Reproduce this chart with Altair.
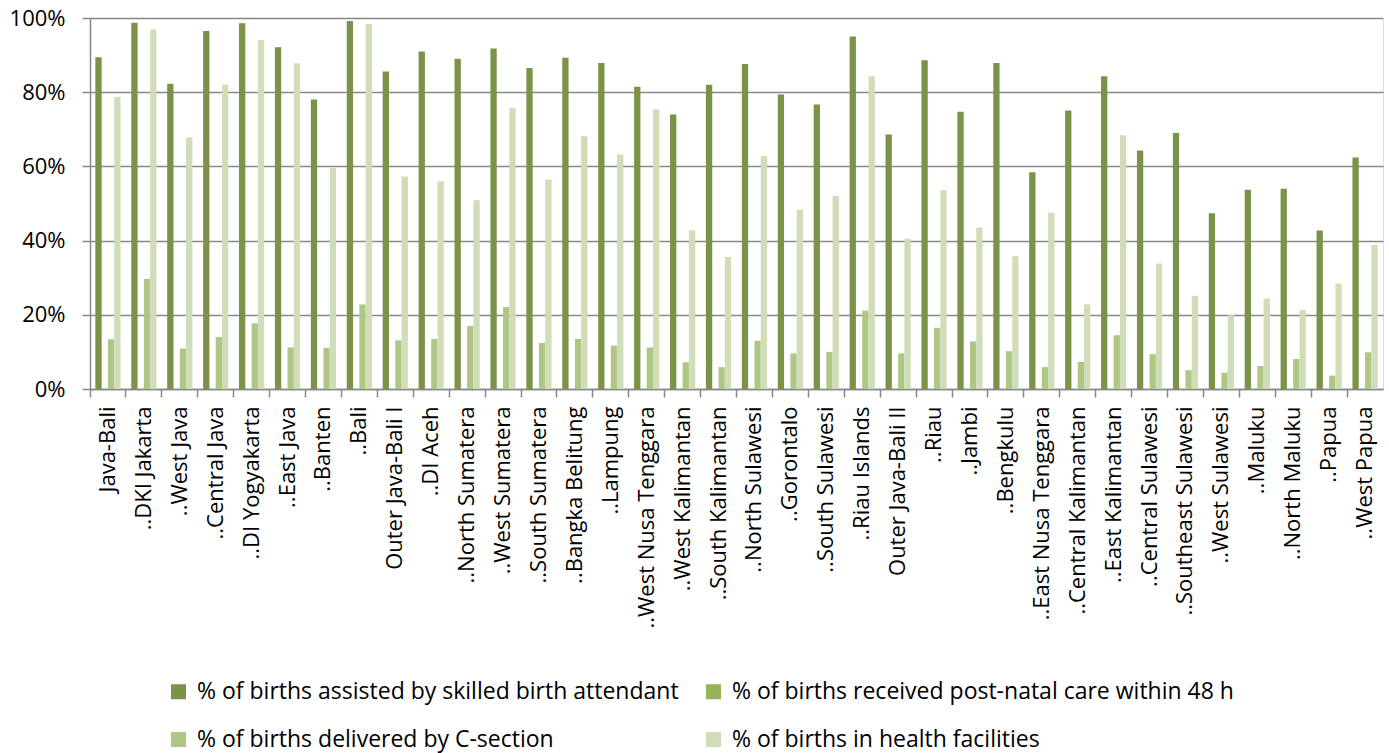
import altair as alt
import pandas as pd

regions = [
    "Java-Bali", "..DKI Jakarta", "..West Java", "..Central Java", "..DI Yogyakarta",
    "..East Java", "..Banten", "..Bali", "Outer Java-Bali I", "..DI Aceh",
    "..North Sumatera", "..West Sumatera", "..South Sumatera", "..Bangka Belitung",
    "..Lampung", "..West Nusa Tenggara", "..West Kalimantan", "..South Kalimantan",
    "..North Sulawesi", "..Gorontalo", "..South Sulawesi", "..Riau Islands",
    "Outer Java-Bali II", "..Riau", "..Jambi", "..Bengkulu", "..East Nusa Tenggara",
    "..Central Kalimantan", "..East Kalimantan", "..Central Sulawesi",
    "..Southeast Sulawesi", "..West Sulawesi", "..Maluku", "..North Maluku",
    "..Papua", "..West Papua",
]

skilled = [
    89.4, 98.7, 82.3, 96.5, 98.6, 92.1, 78.0, 99.2, 85.6, 91.0,
    89.0, 91.8, 86.5, 89.3, 87.9, 81.5, 74.0, 82.0, 87.6, 79.4,
    76.7, 95.0, 68.6, 88.6, 74.7, 87.9, 58.4, 75.1, 84.3, 64.3,
    69.0, 47.4, 53.7, 54.0, 42.7, 62.4,
]
postnatal = [None] * len(regions)
csection = [
    13.4, 29.7, 10.9, 14.0, 17.7, 11.2, 11.1, 22.8, 13.1, 13.5,
    17.0, 22.1, 12.4, 13.5, 11.7, 11.2, 7.2, 5.9, 13.0, 9.6,
    10.0, 21.1, 9.6, 16.5, 12.8, 10.2, 5.9, 7.3, 14.5, 9.4,
    5.1, 4.4, 6.2, 8.1, 3.6, 9.9,
]
facilities = [
    78.7, 96.9, 67.8, 82.0, 94.1, 87.8, 59.6, 98.4, 57.3, 56.0,
    50.9, 75.8, 56.5, 68.1, 63.2, 75.4, 42.8, 35.6, 62.8, 48.3,
    52.0, 84.3, 40.5, 53.6, 43.5, 35.8, 47.5, 22.8, 68.4, 33.8,
    25.1, 19.9, 24.4, 21.3, 28.4, 38.8,
]

series_names = [
    "% of births assisted by skilled birth attendant",
    "% of births received post-natal care within 48 h",
    "% of births delivered by C-section",
    "% of births in health facilities",
]
series_colors = ["#7A9348", "#96B35A", "#AEC785", "#D0DDB9"]

rows = []
for name, vals in zip(series_names, [skilled, postnatal, csection, facilities]):
    for reg, v in zip(regions, vals):
        rows.append({"region": reg, "series": name, "value": (v / 100.0) if v is not None else None})
df = pd.DataFrame(rows)

FONT = "Open Sans"

chart = alt.Chart(df).mark_bar().encode(
    x=alt.X(
        "region:N",
        sort=regions,
        title=None,
        scale=alt.Scale(paddingInner=0, paddingOuter=0),
        axis=alt.Axis(
            labelAngle=-90,
            labelFont=FONT,
            labelFontSize=22,
            labelColor="#000000",
            labelPadding=9,
            bandPosition=0,
            tickSize=8,
            tickColor="#888888",
            tickWidth=1.5,
            domainColor="#888888",
            domainWidth=1.5,
            grid=False,
            labelLimit=400,
        ),
    ),
    xOffset=alt.XOffset(
        "series:N",
        sort=series_names,
        scale=alt.Scale(domain=series_names, paddingInner=0, paddingOuter=0.85),
    ),
    y=alt.Y(
        "value:Q",
        title=None,
        scale=alt.Scale(domain=[0, 1], nice=False),
        axis=alt.Axis(
            format=".0%",
            values=[0, 0.2, 0.4, 0.6, 0.8, 1.0],
            labelFont=FONT,
            labelFontSize=22,
            labelColor="#000000",
            labelPadding=17,
            tickSize=8,
            tickColor="#888888",
            tickWidth=1.5,
            domainColor="#888888",
            domainWidth=1.5,
            gridColor="#888888",
            gridWidth=1.5,
        ),
    ),
    color=alt.Color(
        "series:N",
        sort=series_names,
        scale=alt.Scale(domain=series_names, range=series_colors),
        legend=alt.Legend(
            title=None,
            orient="none",
            direction="horizontal",
            legendX=77,
            legendY=662,
            columns=2,
            columnPadding=23,
            rowPadding=24,
            symbolType="square",
            symbolSize=225,
            symbolStrokeWidth=0,
            symbolOffset=0,
            labelFont=FONT,
            labelFontSize=23,
            labelColor="#000000",
            labelLimit=1000,
            labelOffset=7,
        ),
    ),
).properties(
    width=1293,
    height=371,
    autosize=alt.AutoSizeParams(type="none"),
    padding={"left": 90, "top": 18, "right": 6, "bottom": 364},
).configure_view(stroke=None).configure(background="#ffffff")

chart.save("out.html", embed_options={"renderer": "svg", "actions": False})
